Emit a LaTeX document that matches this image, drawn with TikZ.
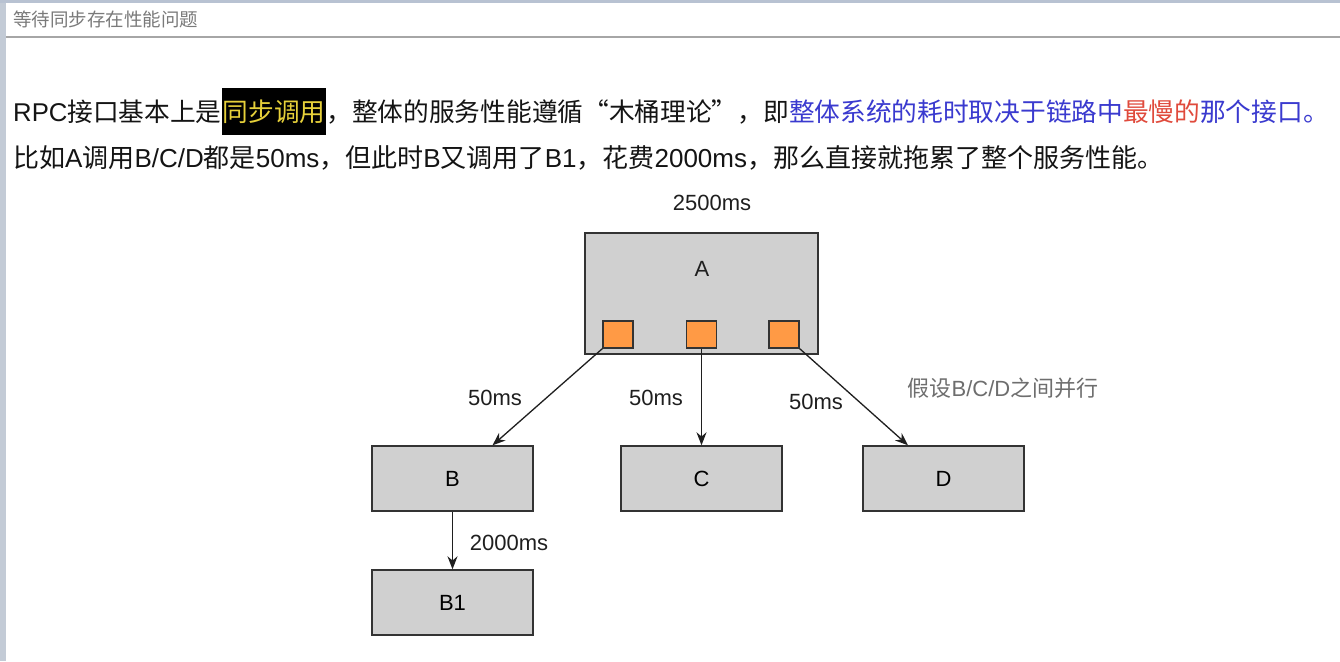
\documentclass[tikz,border=0pt]{standalone}
\usepackage{fontspec}
\setmainfont{Liberation Sans}
\newfontfamily\cjk{Noto Sans CJK SC}
\usetikzlibrary{arrows.meta}
\definecolor{boxgray}{HTML}{D0D0D0}
\definecolor{orangeport}{HTML}{FF9A45}
\definecolor{edgecol}{HTML}{333333}
\definecolor{txtblue}{HTML}{3A3ACF}
\definecolor{txtred}{HTML}{E04A3C}
\definecolor{hlyellow}{HTML}{E6D03A}
\definecolor{framegray}{HTML}{C3CBD6}
\definecolor{topgray}{HTML}{B8C2D2}
\definecolor{titlegray}{HTML}{7A7A7A}
\definecolor{notegray}{HTML}{6E6E6E}
\begin{document}
\begin{tikzpicture}[x=1pt,y=-1pt,
  box/.style={draw=edgecol, fill=boxgray, line width=1.4pt, minimum width=161pt, minimum height=65pt, inner sep=0pt, font=\fontsize{22}{24}\selectfont},
  port/.style={draw=edgecol, fill=orangeport, line width=1.3pt, minimum width=30pt, minimum height=27pt, inner sep=0pt},
  conn/.style={draw=black!88, line width=1.3pt, -{Stealth[length=13pt,width=10pt]}},
  lbl/.style={font=\fontsize{22}{24}\selectfont, inner sep=0pt, text=black!88},
  body/.style={anchor=base west, inner sep=0pt, font=\fontsize{26}{30}\selectfont, text=black!92}
]
\useasboundingbox (0,0) rectangle (1340,661);
\fill[white] (0,0) rectangle (1340,661);
% window frame
\fill[framegray] (0,0) rectangle (6,661);
\fill[topgray] (0,0) rectangle (1340,3);
\draw[black!35, line width=1.5pt] (6,37) -- (1340,37);
\node[anchor=west, inner sep=0pt, text=titlegray, font=\fontsize{18.5}{20}\selectfont\cjk] (title) at (13,19) {等待同步存在性能问题};

% body text
\node[body, font=\fontsize{25.7}{30}\selectfont] (line1) at (13,121) {RPC{\cjk 接口基本上是}{\setlength\fboxsep{0pt}\colorbox{black}{\rule[-14pt]{0pt}{47pt}\hspace{1pt}\textcolor{hlyellow}{\cjk 同步调用}\hspace{1pt}}}{\cjk ，整体的服务性能遵循“木桶理论”，即}\textcolor{txtblue}{\cjk 整体系统的耗时取决于链路中}\textcolor{txtred}{\cjk 最慢的}\textcolor{txtblue}{\cjk 那个接口。}};
\node[body] (line2) at (13,167) {{\cjk 比如}A{\cjk 调用}B/C/D{\cjk 都是}50ms{\cjk ，但此时}B{\cjk 又调用了}B1{\cjk ，花费}2000ms{\cjk ，那么直接就拖累了整个服务性能。}};

% diagram
\node[lbl] (total) at (712,203) {2500ms};
\node[box, minimum width=233pt, minimum height=121pt] (A) at (701.5,293.5) {};
\node[lbl] (Alabel) at (702,269) {A};
\node[port] (p1) at (618,334.5) {};
\node[port] (p2) at (701.5,334.5) {};
\node[port] (p3) at (784,334.5) {};

\node[box] (B) at (452.5,478.5) {B};
\node[box] (C) at (701.5,478.5) {C};
\node[box] (D) at (943.5,478.5) {D};
\node[box] (B1) at (452.5,602.5) {B1};

\draw[conn] (p1.south west) -- ([xshift=40pt]B.north);
\draw[conn] (p2.south) -- (C.north);
\draw[conn] (p3.south east) -- ([xshift=-35.5pt]D.north);
\draw[conn] (B.south) -- (B1.north);

\node[lbl] (l1) at (495,398) {50ms};
\node[lbl] (l2) at (656,398) {50ms};
\node[lbl] (l3) at (816,402) {50ms};
\node[lbl] (l4) at (509,543) {2000ms};
\node[inner sep=0pt, text=notegray, font=\fontsize{22}{24}\selectfont] (note) at (1003,388) {{\cjk 假设}B/C/D{\cjk 之间并行}};
\end{tikzpicture}
\end{document}
